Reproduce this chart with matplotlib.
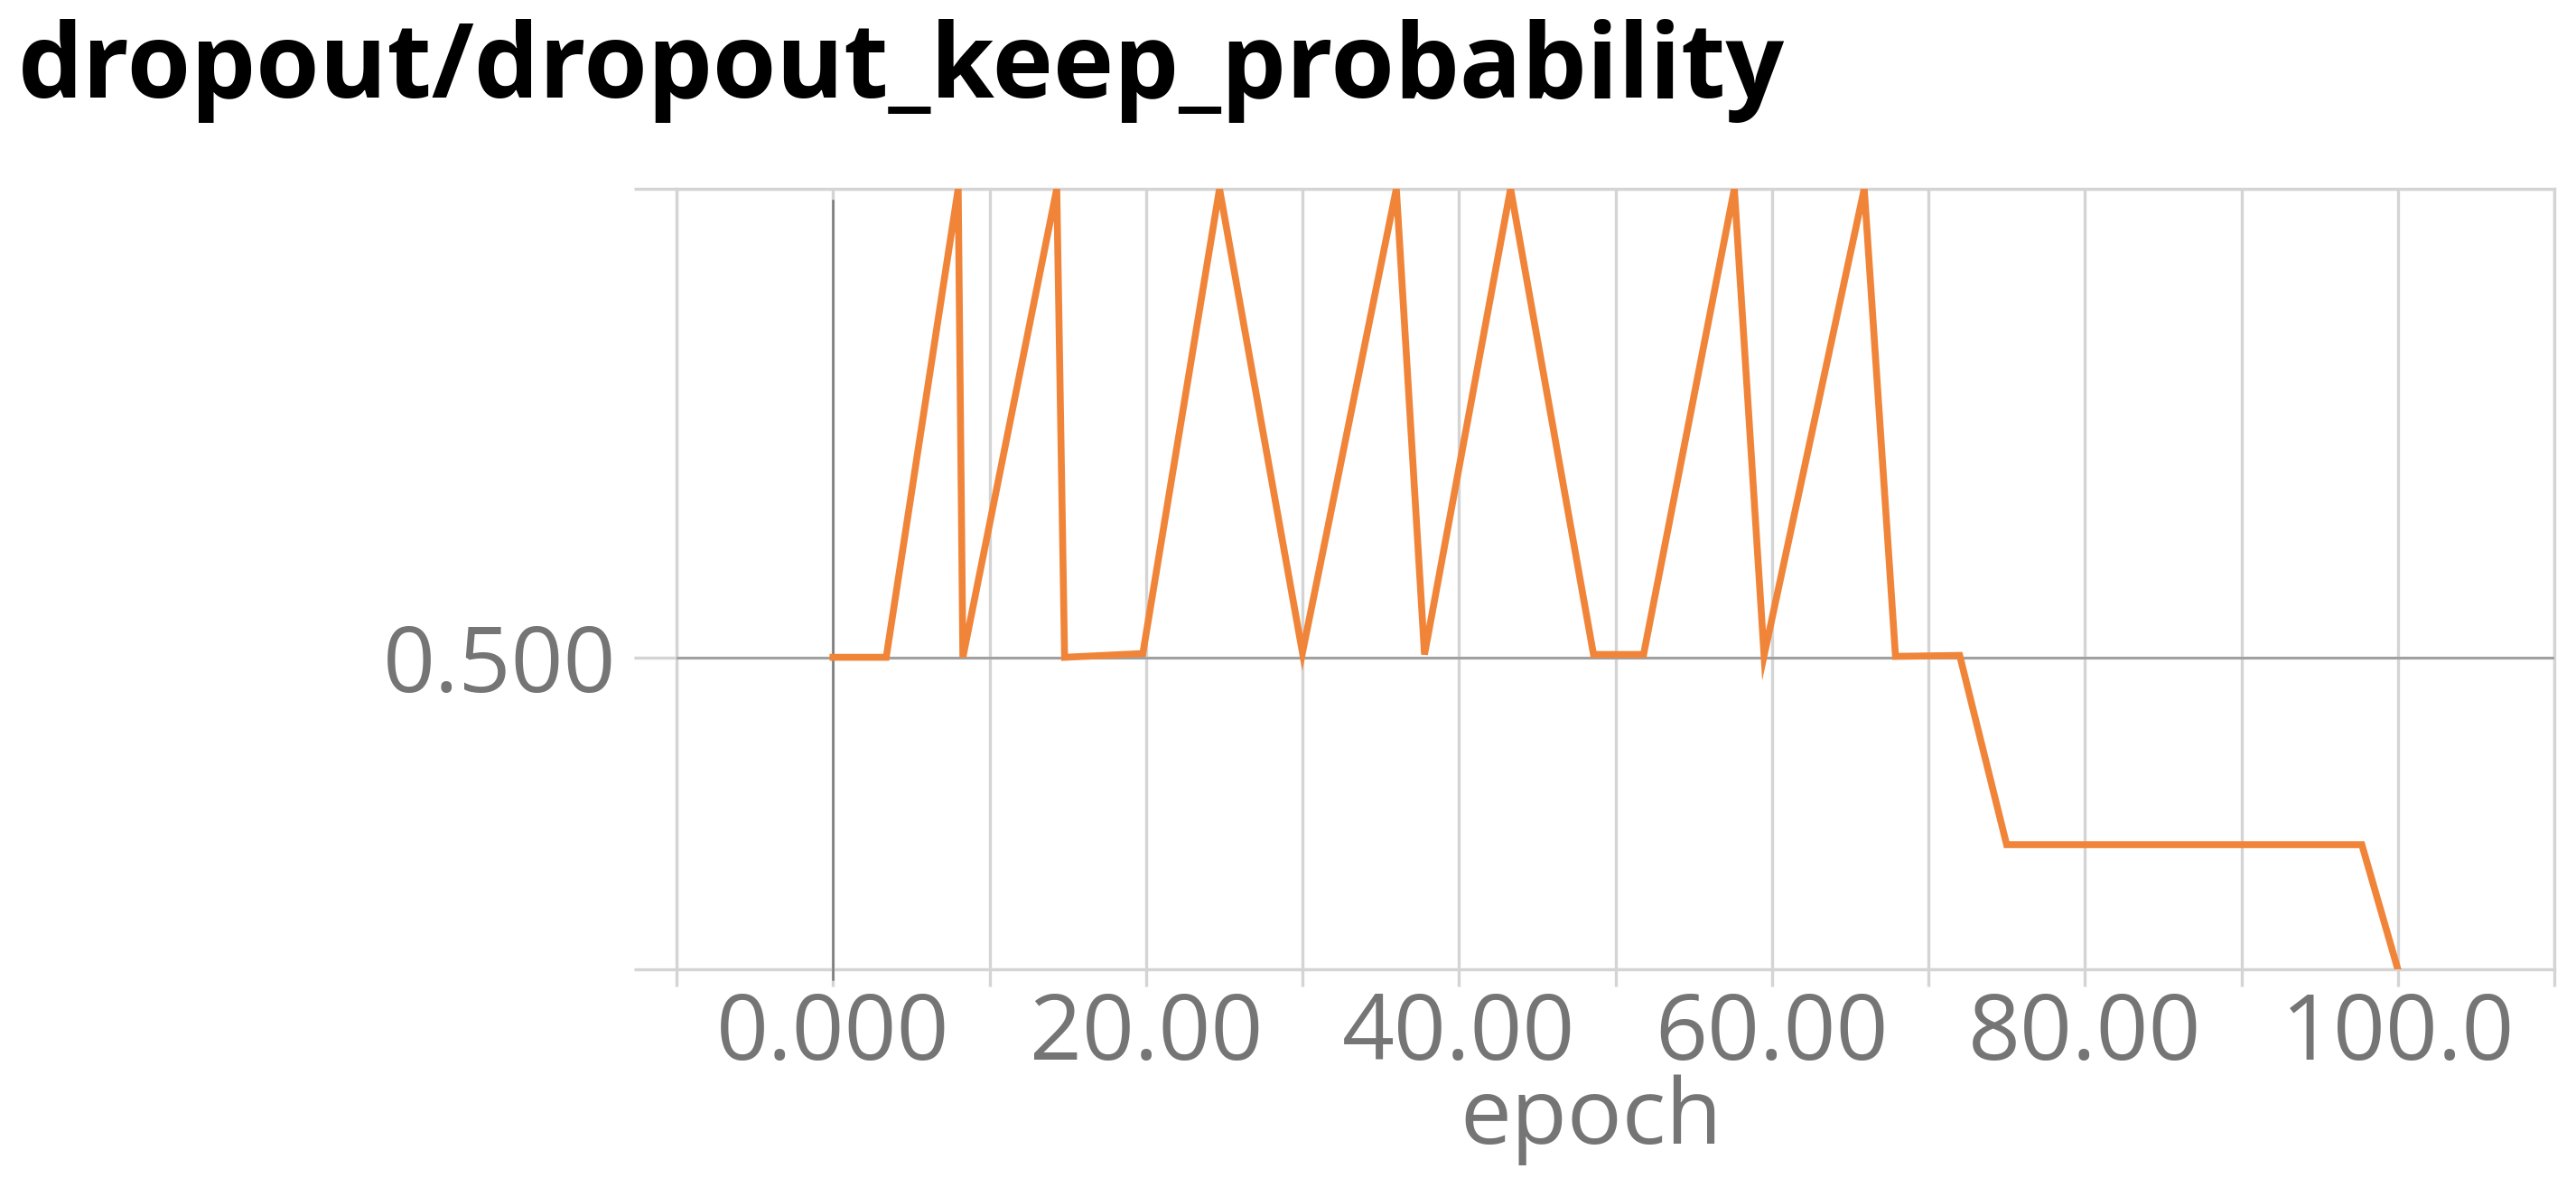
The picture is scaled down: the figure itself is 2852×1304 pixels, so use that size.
import matplotlib
matplotlib.use('Agg')
import matplotlib.pyplot as plt

# scalar: dropout/dropout_keep_probability
epoch = [0, 3.4, 8.0, 8.3, 14.3, 14.8, 19.8, 24.7, 30.0, 36.0, 37.8, 43.3,
         48.6, 51.8, 57.6, 59.5, 65.9, 67.9, 72.0, 75.0, 97.7, 100]
keep_prob = [0.5, 0.5, 1.0, 0.5, 1.0, 0.5, 0.504, 1.0, 0.505, 1.0, 0.503, 1.0,
             0.503, 0.503, 1.0, 0.502, 1.0, 0.501, 0.502, 0.3, 0.3, 0.167]

x_ticks = list(range(-10, 111, 10))
x_labels = ['', '0.000', '', '20.00', '', '40.00', '', '60.00', '', '80.00', '', '100.0', '']
y_ticks = [0.167, 0.5, 1.0]
y_labels = ['', '0.500', '']

W, H = 2852, 1304
plt.rcParams['font.family'] = ['Open Sans', 'DejaVu Sans']
fig = plt.figure(figsize=(W / 100, H / 100), dpi=100)
ax = fig.add_axes([749 / W, 231 / H, (2828 - 749) / W, (1073 - 209) / H])

grid_c = '#d4d4d4'
text_c = '#757575'

ax.plot(epoch, keep_prob, color='#f0853a', lw=5.5, zorder=5,
        solid_joinstyle='miter')
ax.axhline(0.5, color='#9e9e9e', lw=2, zorder=3)
ax.plot([0, 0], [-0.013, 0.985], transform=ax.get_xaxis_transform(),
        color='#7a7a7a', lw=1.8, zorder=4, clip_on=False)

ax.set_xlim(-10, 110)
ax.set_ylim(0.167, 1.0)
ax.set_xticks(x_ticks)
ax.set_xticklabels(x_labels)
ax.set_yticks(y_ticks)
ax.set_yticklabels(y_labels)
ax.grid(True, color=grid_c, lw=2.4, zorder=1)
ax.set_axisbelow(True)
for s in ax.spines.values():
    s.set_color(grid_c)
    s.set_linewidth(2.4)
ax.tick_params(axis='x', length=14, width=2.4, color=grid_c, pad=3,
               labelsize=73, labelcolor=text_c)
ax.tick_params(axis='y', length=34, width=2.4, color=grid_c, pad=14,
               labelsize=73, labelcolor=text_c)

fig.text(20 / W, 1 - 108 / H, 'dropout/dropout_keep_probability',
         fontsize=82, fontweight='bold', color='black', va='baseline', ha='left')
fig.text(1762 / W, 1 - 1266 / H, 'epoch', fontsize=73, color=text_c,
         va='baseline', ha='center')

fig.savefig('out.png', dpi=100, facecolor='white')
